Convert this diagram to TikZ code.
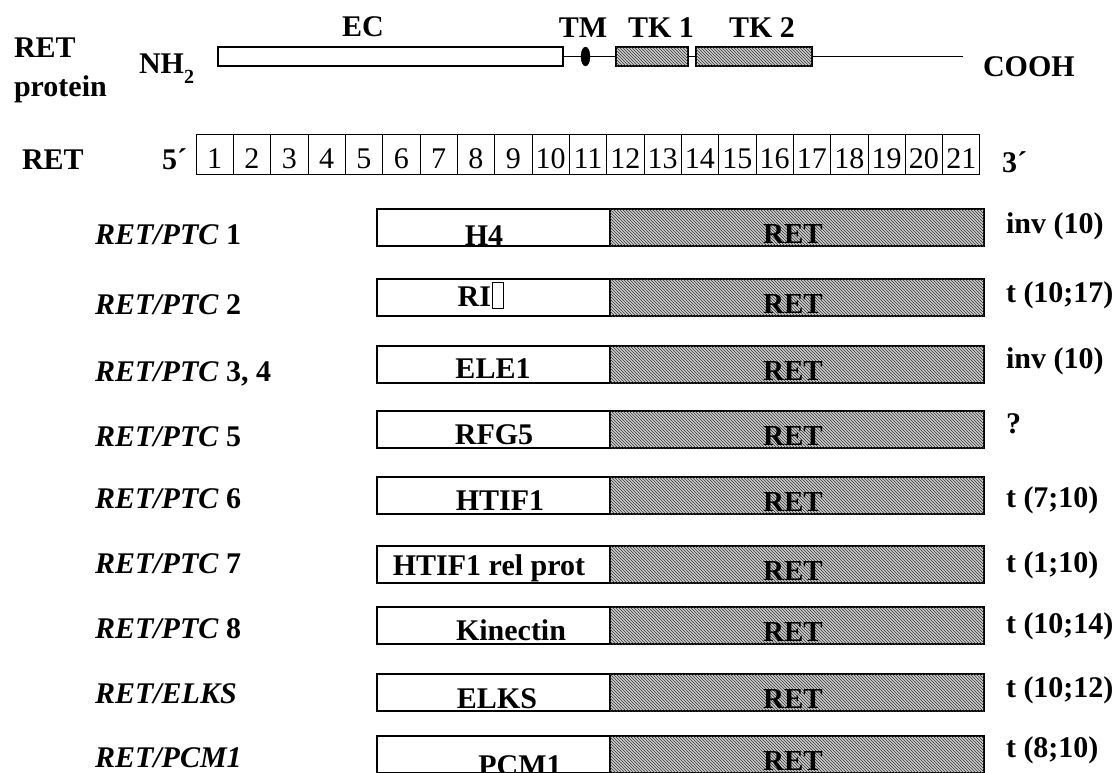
\documentclass[tikz,border=0pt]{standalone}
\usepackage{fontspec}
\setmainfont{Liberation Serif}
\usetikzlibrary{patterns,shapes.geometric}
\tikzset{
  big/.style={font=\fontsize{30}{36}\selectfont\bfseries, inner sep=0pt, outer sep=0pt},
  sub/.style={font=\fontsize{20}{24}\selectfont\bfseries, inner sep=0pt, outer sep=0pt},
  exnum/.style={font=\fontsize{30}{34}\selectfont, inner sep=0pt, outer sep=0pt},
  plainbox/.style={draw, line width=1.2pt, fill=white, inner sep=0pt, outer sep=0pt},
  hatchbox/.style={draw, line width=1.2pt, fill=gray!40, inner sep=0pt, outer sep=0pt,
     postaction={pattern=north west lines, pattern color=gray!45!black}},
  exonbox/.style={draw, line width=0.9pt, inner sep=0pt, outer sep=0pt,
     minimum width=37.33pt, minimum height=40pt, anchor=north west},
  partner/.style={plainbox, minimum width=233pt, minimum height=37pt},
  retpart/.style={hatchbox, minimum width=374pt, minimum height=37pt},
  conn/.style={line width=1.2pt},
}
\newcommand{\fusrow}[9]{%
  \node[partner, anchor=north west] (p#1) at (377,#2) {};
  \node[retpart, anchor=north west] (r#1) at (p#1.north east) {};
  \node[big, anchor=base west] (l#1) at (95,#4) {#3};
  \node[big, anchor=base] (t#1) at (#6,#7) {#5};
  \node[big, font=\fontsize{29}{34}\selectfont\bfseries, anchor=base] (rt#1) at (793,{#2+34}) {RET};
  \node[big, anchor=base west] (x#1) at (1006,#9) {#8};
}
\begin{document}
\begin{tikzpicture}[x=1pt,y=-1pt]
\useasboundingbox (0,0) rectangle (1119,772);
% ---------- protein ----------
\node[big, anchor=base west] (retp) at (14,57) {RET};
\node[big, anchor=base west] (prot) at (14,96) {protein};
\node[big, anchor=base west] (nh) at (139,73) {NH};
\node[sub, anchor=base west] (nh2) at (nh.base east) [yshift=-10pt] {2};
\node[plainbox, minimum width=345pt, minimum height=19pt, anchor=north west] (ec) at (218,47) {};
\node[draw, fill=black, ellipse, minimum width=9pt, minimum height=19pt, inner sep=0pt, outer sep=0pt] (tm) at (585.5,56.5) {};
\node[hatchbox, minimum width=72pt, minimum height=19pt, anchor=north west] (tk1) at (616,47) {};
\node[hatchbox, minimum width=116pt, minimum height=19pt, anchor=north west] (tk2) at (696,47) {};
\coordinate (cend) at (963,56.5);
\draw[conn] (ec.east) -- (tm.west);
\draw[conn] (tm.east) -- (tk1.west);
\draw[conn] (tk1.east) -- (tk2.west);
\draw[conn] (tk2.east) -- (cend);
\node[big, anchor=base] (lec) at (363,36) {EC};
\node[big, anchor=base] (ltm) at (583,37) {TM};
\node[big, anchor=base] (ltk1) at (661,37) {TK 1};
\node[big, anchor=base] (ltk2) at (762,37) {TK 2};
\node[big, anchor=base west] (cooh) at (983,76) {COOH};
% ---------- gene ----------
\node[big, anchor=base west] (retg) at (22,169) {RET};
\node[big, anchor=base west] (five) at (162,169) {5´};
\foreach \i in {1,...,21} {
  \node[exonbox] (e\i) at ({196+(\i-1)*37.33},134) {};
  \node[exnum, anchor=base] (n\i) at ({196+(\i-0.5)*37.33},168) {\i};
}
\node[big, anchor=base west] (three) at (1002,172) {3´};
% ---------- fusions ----------
\fusrow{1}{209}{\textit{RET/PTC} 1}{244}{H4}{484}{245}{inv (10)}{233}
\fusrow{2}{279}{\textit{RET/PTC} 2}{314}{RI\kern1pt\raisebox{-2pt}{\setlength{\fboxsep}{0pt}\setlength{\fboxrule}{1.2pt}\fbox{\rule{0pt}{25pt}\hspace{10pt}}}}{481}{306}{t (10;17)}{302}
\fusrow{3}{346}{\textit{RET/PTC} 3, 4}{381}{ELE1}{493}{378}{inv (10)}{368}
\fusrow{4}{411}{\textit{RET/PTC} 5}{446}{RFG5}{494}{444}{?}{433}
\fusrow{5}{477}{\textit{RET/PTC} 6}{508}{HTIF1}{500}{510}{t (7;10)}{507}
\fusrow{6}{546}{\textit{RET/PTC} 7}{573}{HTIF1 rel prot}{489}{575}{t (1;10)}{572}
\fusrow{7}{607}{\textit{RET/PTC} 8}{638}{Kinectin}{511}{640}{t (10;14)}{633}
\fusrow{8}{674}{\textit{RET/ELKS}}{703}{ELKS}{497}{708}{t (10;12)}{697}
\fusrow{9}{736}{\textit{RET/PCM1}}{767}{PCM1}{520}{775}{t (8;10)}{757}
\end{tikzpicture}
\end{document}
